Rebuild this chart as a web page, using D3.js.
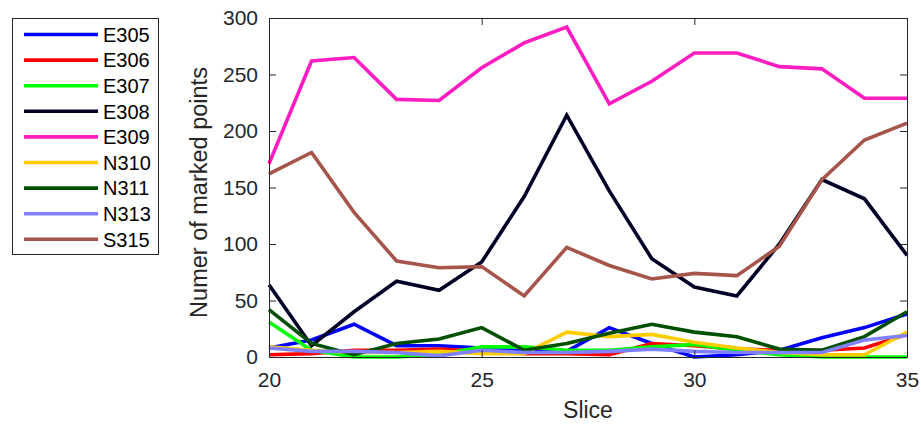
<!DOCTYPE html>
<html><head><meta charset="utf-8">
<script src="https://cdn.jsdelivr.net/npm/d3@7"></script>
<style>body{margin:0;background:#fff;} text{font-family:"Liberation Sans",Arial,sans-serif;}</style>
</head><body><svg id="c" width="921" height="425"></svg>
<script>
const slices = [20,21,22,23,24,25,26,27,28,29,30,31,32,33,34,35];
const seriesNames = ["E305","E306","E307","E308","E309","N310","N311","N313","S315"];
const seriesColors = ["#0000ff","#ff0000","#00ff00","#000026","#ff1cc0","#ffcc00","#005000","#8080ff","#a5554a"];
const E305 = [8,15,29,10,10,8,5,5,26,12,0,2,6,17,26,38];
const E306 = [2,3,6,6,7,5,3,3,2,12,10,7,6,6,8,20];
const E307 = [31,6,0,0,2,9,9,6,6,9,11,6,2,0,0,0];
const E308 = [64,10,40,67,59,84,142,214,147,87,62,54,100,157,140,90];
const E309 = [171,262,265,228,227,256,278,292,224,244,269,269,257,255,229,229];
const N310 = [9,6,4,4,5,3,3,22,18,20,13,8,4,2,2,22];
const N311 = [42,12,2,12,16,26,6,12,21,29,22,18,7,6,18,40];
const N313 = [8,5,5,4,1,6,4,4,5,7,5,4,4,4,15,19];
const S315 = [162,181,128,85,79,80,54,97,81,69,74,72,98,157,192,207];
const seriesValues = [E305,E306,E307,E308,E309,N310,N311,N313,S315];
const xTicks = [20,25,30,35];
const yTicks = [0,50,100,150,200,250,300];

const svg = d3.select("#c");
const L=269,R=907,T=18,B=357;
const x = d3.scaleLinear().domain([20,35]).range([L,R]);
const y = d3.scaleLinear().domain([0,300]).range([B,T]);
const axCol="#262626";

// lines
const line = d3.line().x((d,i)=>x(slices[i])).y(d=>y(d));
seriesValues.forEach((vals,k)=>{
  svg.append("path").attr("d",line(vals)).attr("fill","none")
    .attr("stroke",seriesColors[k]).attr("stroke-width",3.6).attr("stroke-linejoin","miter");
});

// axes box with inward ticks
const g = svg.append("g");
g.append("g").attr("transform",`translate(0,${B})`)
  .call(d3.axisBottom(x).tickValues(xTicks).tickSizeInner(-7).tickSizeOuter(0).tickPadding(15))
  .call(a=>{a.select(".domain").attr("stroke",axCol);a.selectAll("line").attr("stroke",axCol);a.selectAll("text").attr("fill",axCol).attr("font-size",21);});
g.append("g").attr("transform",`translate(0,${T})`)
  .call(d3.axisTop(x).tickValues(xTicks).tickSizeInner(-7).tickSizeOuter(0).tickFormat(""))
  .call(a=>{a.select(".domain").attr("stroke",axCol);a.selectAll("line").attr("stroke",axCol);});
g.append("g").attr("transform",`translate(${L},0)`)
  .call(d3.axisLeft(y).tickValues(yTicks).tickSizeInner(-7).tickSizeOuter(0).tickPadding(11))
  .call(a=>{a.select(".domain").attr("stroke",axCol);a.selectAll("line").attr("stroke",axCol);a.selectAll("text").attr("fill",axCol).attr("font-size",21);});
g.append("g").attr("transform",`translate(${R},0)`)
  .call(d3.axisRight(y).tickValues(yTicks).tickSizeInner(-7).tickSizeOuter(0).tickFormat(""))
  .call(a=>{a.select(".domain").attr("stroke",axCol);a.selectAll("line").attr("stroke",axCol);});

// axis labels
svg.append("text").attr("x",(L+R)/2).attr("y",418).attr("text-anchor","middle")
  .attr("font-size",23).attr("fill",axCol).text("Slice");
svg.append("text").attr("transform",`translate(207,${(T+B)/2+5}) rotate(-90)`).attr("text-anchor","middle")
  .attr("font-size",23.5).attr("fill",axCol).text("Numer of marked points");

// legend
const lg = svg.append("g");
lg.append("rect").attr("x",12.5).attr("y",18.5).attr("width",146).attr("height",236)
  .attr("fill","#fff").attr("stroke",axCol).attr("stroke-width",1);
seriesNames.forEach((n,k)=>{
  const yy = 34.5 + k*25.6;
  lg.append("line").attr("x1",24).attr("x2",98).attr("y1",yy).attr("y2",yy)
    .attr("stroke",seriesColors[k]).attr("stroke-width",3.6);
  lg.append("text").attr("x",103).attr("y",yy).attr("dy","0.36em")
    .attr("font-size",20).attr("fill","#000").text(n);
});
</script></body></html>
